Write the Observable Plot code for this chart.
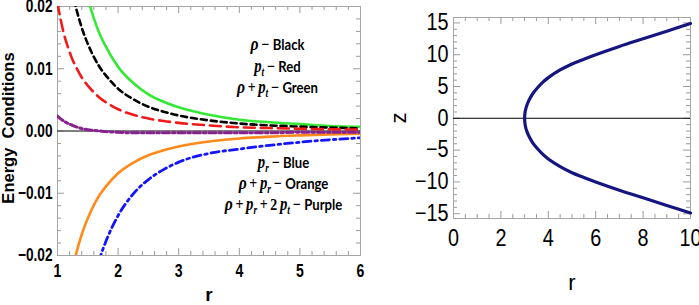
<!DOCTYPE html>
<html><head><meta charset="utf-8">
<script src="https://cdn.jsdelivr.net/npm/d3@7"></script>
<script src="https://cdn.jsdelivr.net/npm/@observablehq/plot@0.6"></script>
<style>
body{margin:0;background:#fff;}
#wrap{display:flex;width:699px;height:305px;overflow:hidden;}
svg{overflow:visible;}
</style></head><body><div id="wrap"></div>
<script>
// ---------- data ----------
const r = [1, 1.1, 1.2, 1.25, 1.3, 1.4, 1.5, 1.6, 1.7, 1.8, 2, 2.25, 2.5, 2.75, 3, 3.5, 4, 4.5, 5, 5.5, 6];
const rhoBlack   = [0.0385, 0.0303, 0.0244, 0.0220, 0.0200, 0.0166, 0.0140, 0.0119, 0.0102, 0.0089, 0.0068, 0.0051, 0.0039, 0.0031, 0.0025, 0.0017, 0.0012, 0.0009, 0.0007, 0.00054, 0.00044];
const ptRed      = [0.0205, 0.0158, 0.0127, 0.0114, 0.0104, 0.0086, 0.0073, 0.0062, 0.0053, 0.0046, 0.0035, 0.0026, 0.0020, 0.0016, 0.0013, 0.0009, 0.0006, 0.00047, 0.00036, 0.00028, 0.00023];
const rhoPtGreen = [0.0585, 0.0461, 0.0371, 0.0334, 0.0304, 0.0252, 0.0213, 0.0181, 0.0155, 0.0135, 0.0103, 0.0077, 0.0059, 0.0047, 0.0038, 0.0026, 0.0018, 0.0014, 0.0011, 0.0008, 0.00066];
const prBlue     = [-0.077, -0.0607, -0.0488, -0.0441, -0.0400, -0.0332, -0.0279, -0.0241, -0.0204, -0.0177, -0.0136, -0.0101, -0.0078, -0.0062, -0.0050, -0.0036, -0.0029, -0.0023, -0.0018, -0.0014, -0.0011];
const rhoPrOrange= [-0.0385, -0.0303, -0.0244, -0.0220, -0.0200, -0.0166, -0.0140, -0.0119, -0.0102, -0.0089, -0.0068, -0.0051, -0.0039, -0.0031, -0.0025, -0.0017, -0.0012, -0.0009, -0.0007, -0.00054, -0.00044];
const secPurple  = [0.0024, 0.0016, 0.0011, 0.0009, 0.0007, 0.0004, 0.0002, 0.0001, 0.0000, -0.0001, -0.0002, -0.0003, -0.0003, -0.0003, -0.0003, -0.0003, -0.0003, -0.0003, -0.0002, -0.0002, -0.0002];

const rEmbed = [3, 3.02, 3.05, 3.1, 3.2, 3.35, 3.5, 3.75, 4, 4.5, 5, 5.5, 6, 7, 8, 9, 10];
const zEmbed = [0, 0.95, 1.5, 2.1, 2.95, 3.9, 4.6, 5.6, 6.4, 7.6, 8.55, 9.3, 10.0, 11.3, 12.5, 13.7, 14.9];

const xTicksL = [1, 2, 3, 4, 5, 6];
const yTicksL = [-0.02, -0.01, 0, 0.01, 0.02];
const xTicksR = [0, 2, 4, 6, 8, 10];
const yTicksR = [-15, -10, -5, 0, 5, 10, 15];

const annoUpper = ["ρ − Black", "p_t − Red", "ρ + p_t − Green"];
const annoLower = ["p_r − Blue", "ρ + p_r − Orange", "ρ + p_r + 2 p_t − Purple"];

// ---------- layout / style ----------
const SANS = "'Liberation Sans', Arial, sans-serif";
const SERIF = "'Liberation Serif', 'DejaVu Serif', serif";
const WORD = "Lato, 'Liberation Sans', sans-serif";

const L = {width: 375, height: 305, ml: 57, mr: 15, mt: 6, mb: 50};
const R = {width: 324, height: 305, ml: 78, mr: 9, mt: 17, mb: 87};
const annoPos = {upperX: 4.63, upperY: [0.0138, 0.0103, 0.0069], lowerX: 4.73, lowerY: [-0.0051, -0.0085, -0.0119]};

function frameTicks(xs, ys, innerW, innerH, len, color) {
  return [
    Plot.tickX(xs, {x: d => d, insetTop: innerH - len, stroke: color}),
    Plot.tickX(xs, {x: d => d, insetBottom: innerH - len, stroke: color}),
    Plot.tickY(ys, {y: d => d, insetRight: innerW - len, stroke: color}),
    Plot.tickY(ys, {y: d => d, insetLeft: innerW - len, stroke: color})
  ];
}
const within = (a, b, step, majors) => d3.range(a, b + step / 2, step).map(v => +v.toFixed(6)).filter(v => !majors.some(m => Math.abs(m - v) < 1e-9));

const series = [
  {vals: rhoPtGreen, stroke: "#35e835", dash: null, w: 2.6},
  {vals: rhoBlack, stroke: "#000000", dash: "6,4", w: 2.6},
  {vals: ptRed, stroke: "#f01a1a", dash: "11,6", w: 2.6},
  {vals: rhoPrOrange, stroke: "#ff8a1c", dash: null, w: 2.6},
  {vals: prBlue, stroke: "#1414ff", dash: "8,4,2.5,4", w: 2.8},
  {vals: secPurple, stroke: "#86218e", dash: "7,3,2.5,3", w: 3}
];

const innerWL = L.width - L.ml - L.mr, innerHL = L.height - L.mt - L.mb;
const left = Plot.plot({
  width: L.width, height: L.height,
  marginLeft: L.ml, marginRight: L.mr, marginTop: L.mt, marginBottom: L.mb,
  x: {domain: [1, 6]},
  y: {domain: [-0.02, 0.02]},
  style: {fontFamily: SANS, fontSize: "18px", fontWeight: "bold", color: "#000", background: "#fff"},
  marks: [
    ...frameTicks(xTicksL, yTicksL, innerWL, innerHL, 7, "#9a9a9a"),
    ...frameTicks(within(1, 6, 0.2, xTicksL), within(-0.02, 0.02, 0.002, yTicksL), innerWL, innerHL, 4, "#9a9a9a"),
    Plot.frame({stroke: "#a5a5a5"}),
    Plot.ruleY([0], {stroke: "#555", strokeWidth: 1.3}),
    ...series.map(s => Plot.line(r.map((x, i) => ({x, y: s.vals[i]})), {
      x: "x", y: "y", stroke: s.stroke, strokeWidth: s.w, strokeDasharray: s.dash,
      curve: "monotone-x", clip: true
    })),
    Plot.axisX(xTicksL, {tickSize: 0, tickPadding: 9, label: null}),
    Plot.axisY(yTicksL, {tickSize: 0, tickPadding: 5, tickFormat: d3.format(".2f"), label: null}),
    Plot.text(["r"], {text: d => d, frameAnchor: "bottom", lineAnchor: "middle", dy: 39, fontSize: 19}),
    Plot.text(["Energy\u00a0 Conditions"], {text: d => d, frameAnchor: "left", textAnchor: "middle", lineAnchor: "middle",
      rotate: -90, dx: -49, dy: -3, fontSize: 16.5}),
    Plot.text(annoUpper, {x: () => annoPos.upperX, y: (d, i) => annoPos.upperY[i], text: d => d, fontSize: 15}),
    Plot.text(annoLower, {x: () => annoPos.lowerX, y: (d, i) => annoPos.lowerY[i], text: d => d, fontSize: 15})
  ]
});

const upper = rEmbed.map((x, i) => ({x, y: zEmbed[i]})).reverse();
const lower = rEmbed.map((x, i) => ({x, y: -zEmbed[i]})).slice(1);
const innerWR = R.width - R.ml - R.mr, innerHR = R.height - R.mt - R.mb;
const right = Plot.plot({
  width: R.width, height: R.height,
  marginLeft: R.ml, marginRight: R.mr, marginTop: R.mt, marginBottom: R.mb,
  x: {domain: [0, 10]},
  y: {domain: [-15.75, 15.85]},
  style: {fontFamily: SANS, fontSize: "23px", color: "#000", background: "#fff"},
  marks: [
    ...frameTicks(xTicksR, yTicksR, innerWR, innerHR, 7, "#9a9a9a"),
    ...frameTicks(within(0, 10, 0.5, xTicksR), within(-15, 15, 1, yTicksR), innerWR, innerHR, 4, "#9a9a9a"),
    Plot.frame({stroke: "#a5a5a5"}),
    Plot.ruleY([0], {stroke: "#000", strokeWidth: 1.1}),
    Plot.line([...upper, ...lower], {x: "x", y: "y", stroke: "#151580", strokeWidth: 3.2, curve: "catmull-rom"}),
    Plot.axisX(xTicksR, {tickSize: 0, tickPadding: 11, label: null}),
    Plot.axisY(yTicksR, {tickSize: 0, tickPadding: 5, label: null}),
    Plot.text(["r"], {text: d => d, frameAnchor: "bottom", lineAnchor: "middle", dy: 64, fontSize: 22}),
    Plot.text(["z"], {text: d => d, frameAnchor: "left", textAnchor: "middle", lineAnchor: "middle", rotate: -90, dx: -55, fontSize: 22})
  ]
});

// rich text: italic math with subscripts, bold words
const richTexts = [];
function richify(svg) {
  d3.select(svg).selectAll("text").each(function () {
    const s = this.textContent;
    if (!/ − (Black|Red|Green|Blue|Orange|Purple)$/.test(s)) return;
    const [math, word] = s.split(" − ");
    const t = d3.select(this);
    t.text(null);
    let pending = 0;
    const add = (txt, attrs) => {
      const sp = t.append("tspan").text(txt);
      for (const k in attrs) sp.attr(k, attrs[k]);
      if (pending) { sp.attr("dy", -pending); pending = 0; }
      return sp;
    };
    math.split(" ").forEach((tok, i) => {
      if (i > 0) add("\u2009", {"font-family": SERIF, "font-size": 16});
      const m = tok.match(/^(\w)_(\w)$/);
      if (m) {
        add(m[1], {"font-family": SERIF, "font-style": "italic", "font-size": 18});
        t.append("tspan").text(m[2]).attr("font-family", SERIF).attr("font-style", "italic").attr("font-size", 11.5).attr("dy", 4);
        pending = 4;
      } else if (tok === "ρ") {
        add(tok, {"font-family": SERIF, "font-style": "italic", "font-size": 19});
      } else {
        add(tok, {"font-family": SERIF, "font-size": 17});
      }
    });
    add("\u2009− ", {"font-family": SERIF, "font-size": 17});
    add(word, {"font-family": WORD, "font-size": 16});
    richTexts.push(this);
  });
}
richify(left);

const wrap = document.getElementById("wrap");
wrap.appendChild(left);
wrap.appendChild(right);

// horizontal condensing (the reference uses narrow fonts) via textLength
function condense(t, s) {
  const w = t.getComputedTextLength();
  if (w > 0) {
    t.setAttribute("textLength", (w * s).toFixed(2));
    t.setAttribute("lengthAdjust", "spacingAndGlyphs");
  }
}
left.querySelectorAll('g[aria-label="x-axis tick label"] text').forEach(t => condense(t, 0.78));
left.querySelectorAll('g[aria-label="y-axis tick label"] text').forEach(t => condense(t, 0.76));
right.querySelectorAll('g[aria-label="x-axis tick label"] text').forEach(t => condense(t, 0.86));
right.querySelectorAll('g[aria-label="y-axis tick label"] text').forEach(t => condense(t, 0.86));
richTexts.forEach(t => condense(t, 0.82));
</script></body></html>
